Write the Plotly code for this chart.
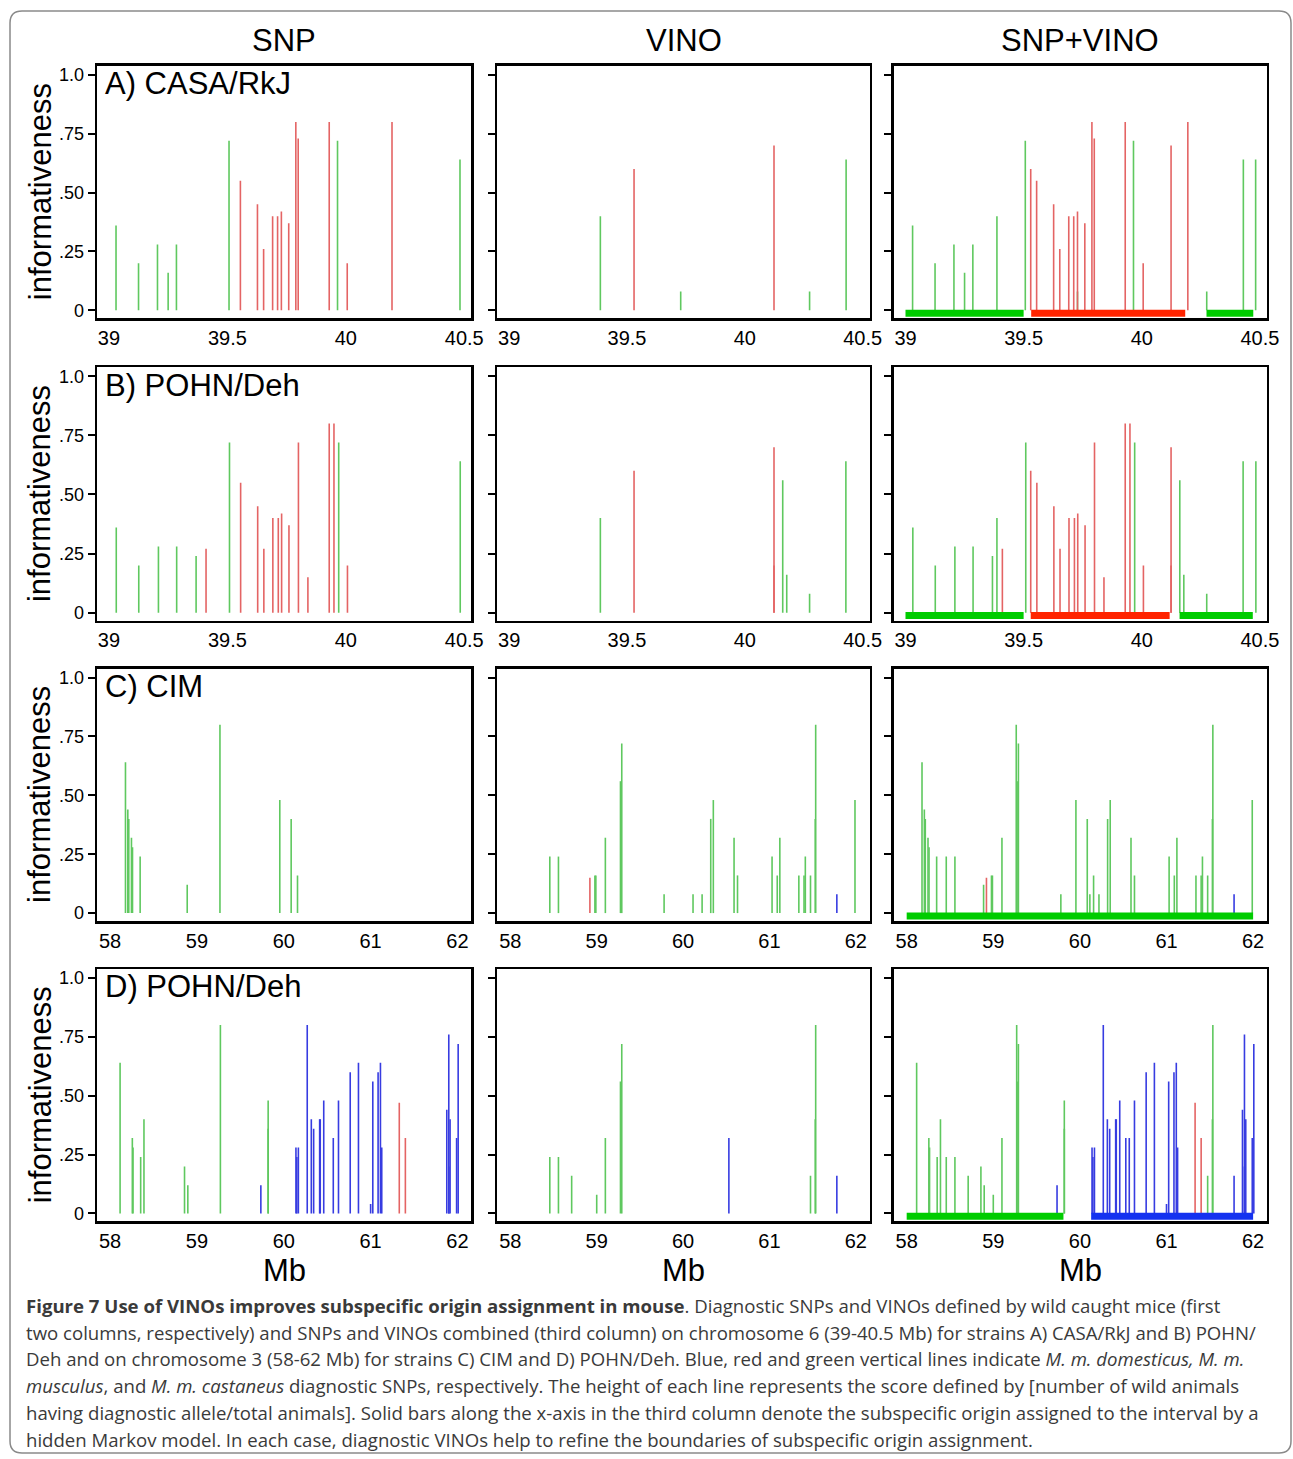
import plotly.graph_objects as go

# ---------------- data ----------------
COL_TITLES = ["SNP", "VINO", "SNP+VINO"]
ROW_LABELS = ["A) CASA/RkJ", "B) POHN/Deh", "C) CIM", "D) POHN/Deh"]
YTICK_VALS = [0, 0.25, 0.5, 0.75, 1.0]
YTICK_TEXT = ["0", ".25", ".50", ".75", "1.0"]
XTICKS_CHR6 = [39, 39.5, 40, 40.5]
XTICKS_CHR3 = [58, 59, 60, 61, 62]

# Row A: CASA/RkJ (chr 6)
A_SNP_green_x = [39.03, 39.125, 39.205, 39.25, 39.285, 39.507, 39.965, 40.482]
A_SNP_green_h = [0.36, 0.20, 0.28, 0.16, 0.28, 0.72, 0.72, 0.64]
A_SNP_red_x = [39.555, 39.627, 39.653, 39.691, 39.712, 39.728, 39.759, 39.789, 39.799, 39.93, 40.006, 40.195]
A_SNP_red_h = [0.55, 0.45, 0.26, 0.40, 0.40, 0.42, 0.37, 0.80, 0.73, 0.80, 0.20, 0.80]
A_VINO_green_x = [39.387, 39.728, 40.275, 40.43]
A_VINO_green_h = [0.40, 0.08, 0.08, 0.64]
A_VINO_red_x = [39.53, 40.124]
A_VINO_red_h = [0.60, 0.70]
A_BAR_start = [39.0, 39.532, 40.274]
A_BAR_end = [39.5, 40.184, 40.472]
A_BAR_type = ["green", "red", "green"]

# Row B: POHN/Deh (chr 6)
B_SNP_green_x = [39.031, 39.126, 39.209, 39.286, 39.368, 39.509, 39.97, 40.483]
B_SNP_green_h = [0.36, 0.20, 0.28, 0.28, 0.24, 0.72, 0.72, 0.64]
B_SNP_red_x = [39.41, 39.556, 39.628, 39.654, 39.692, 39.715, 39.729, 39.76, 39.80, 39.84, 39.93, 39.95, 40.007]
B_SNP_red_h = [0.27, 0.55, 0.45, 0.27, 0.40, 0.40, 0.42, 0.37, 0.72, 0.15, 0.80, 0.80, 0.20]
B_VINO_green_x = [39.387, 40.161, 40.178, 40.275, 40.429]
B_VINO_green_h = [0.40, 0.56, 0.16, 0.08, 0.64]
B_VINO_red_x = [39.53, 40.124, 40.124]
B_VINO_red_h = [0.60, 0.70, 0.20]
B_BAR_start = [39.0, 39.53, 40.16]
B_BAR_end = [39.5, 40.118, 40.47]
B_BAR_type = ["green", "red", "green"]

# Row C: CIM (chr 3)
C_SNP_green_x = [58.177, 58.204, 58.215, 58.246, 58.258, 58.346, 58.888, 59.265, 59.954, 60.085, 60.158]
C_SNP_green_h = [0.64, 0.44, 0.40, 0.32, 0.28, 0.24, 0.12, 0.80, 0.48, 0.40, 0.16]
C_VINO_green_x = [58.457, 58.557, 58.979, 58.99, 59.10, 59.275, 59.29, 59.78, 60.115, 60.22, 60.32,
                  60.35, 60.59, 60.63, 61.03, 61.09, 61.12, 61.34, 61.40, 61.415, 61.475, 61.53,
                  61.535, 61.99]
C_VINO_green_h = [0.24, 0.24, 0.16, 0.16, 0.32, 0.56, 0.72, 0.08, 0.08, 0.08, 0.40,
                  0.48, 0.32, 0.16, 0.24, 0.16, 0.32, 0.16, 0.16, 0.24, 0.16, 0.40,
                  0.80, 0.48]
C_VINO_red_x = [58.921]
C_VINO_red_h = [0.15]
C_VINO_blue_x = [61.78]
C_VINO_blue_h = [0.08]
C_BAR_start = [58.0]
C_BAR_end = [62.0]
C_BAR_type = ["green"]

# Row D: POHN/Deh (chr 3)
D_SNP_green_x = [58.115, 58.256, 58.264, 58.352, 58.39, 58.857, 58.895, 59.27, 59.82, 59.82]
D_SNP_green_h = [0.64, 0.32, 0.28, 0.24, 0.40, 0.20, 0.12, 0.80, 0.48, 0.36]
D_SNP_blue_x = [59.736, 60.14, 60.15, 60.168, 60.27, 60.317, 60.344, 60.413, 60.42, 60.46, 60.57,
                60.63, 60.765, 60.86, 61.0, 61.025, 61.086, 61.113, 61.128, 61.877, 61.90,
                61.90, 61.915, 61.99, 62.008]
D_SNP_blue_h = [0.12, 0.28, 0.24, 0.28, 0.80, 0.40, 0.36, 0.40, 0.40, 0.48, 0.32,
                0.48, 0.60, 0.64, 0.04, 0.56, 0.60, 0.64, 0.28, 0.44, 0.76,
                0.20, 0.40, 0.32, 0.72]
D_SNP_red_x = [61.33, 61.40]
D_SNP_red_h = [0.47, 0.32]
D_VINO_green_x = [58.457, 58.557, 58.71, 59.0, 59.10, 59.275, 59.29, 61.475, 61.53, 61.535]
D_VINO_green_h = [0.24, 0.24, 0.16, 0.08, 0.32, 0.56, 0.72, 0.16, 0.40, 0.80]
D_VINO_blue_x = [60.53, 61.78]
D_VINO_blue_h = [0.32, 0.16]
D_BAR_start = [58.0, 60.13]
D_BAR_end = [59.81, 62.0]
D_BAR_type = ["green", "blue"]

CAPTION_LINES = [
    "<b>Figure 7 Use of VINOs improves subspecific origin assignment in mouse</b>. Diagnostic SNPs and VINOs defined by wild caught mice (first",
    "two columns, respectively) and SNPs and VINOs combined (third column) on chromosome 6 (39-40.5 Mb) for strains A) CASA/RkJ and B) POHN/",
    "Deh and on chromosome 3 (58-62 Mb) for strains C) CIM and D) POHN/Deh. Blue, red and green vertical lines indicate <i>M. m. domesticus, M. m.</i>",
    "<i>musculus</i>, and <i>M. m. castaneus</i> diagnostic SNPs, respectively. The height of each line represents the score defined by [number of wild animals",
    "having diagnostic allele/total animals]. Solid bars along the x-axis in the third column denote the subspecific origin assigned to the interval by a",
    "hidden Markov model. In each case, diagnostic VINOs help to refine the boundaries of subspecific origin assignment.",
]

# ---------------- style ----------------
W, H = 1293, 1459          # design canvas (reference pixels)
FIG_W = 1306               # rendered figure width
COL_PX = [(97, 471), (497, 869), (893, 1266)]
ROW_PX = [(65, 318), (367, 621), (669, 922), (970, 1223)]
LINE_COL = {"green": "rgb(95,200,95)", "red": "rgb(228,100,100)", "blue": "rgb(55,60,225)"}
BAR_COL = {"green": "rgb(0,204,0)", "red": "rgb(255,36,0)", "blue": "rgb(20,50,240)"}
FONT = "Liberation Sans, Arial, sans-serif"
BIG = 31
BAR_Y = -0.012

ROWS = [
    dict(snp={"green": (A_SNP_green_x, A_SNP_green_h), "red": (A_SNP_red_x, A_SNP_red_h)},
         vino={"green": (A_VINO_green_x, A_VINO_green_h), "red": (A_VINO_red_x, A_VINO_red_h)},
         bars=(A_BAR_start, A_BAR_end, A_BAR_type), ticks=XTICKS_CHR6, rng=[38.95, 40.53]),
    dict(snp={"green": (B_SNP_green_x, B_SNP_green_h), "red": (B_SNP_red_x, B_SNP_red_h)},
         vino={"green": (B_VINO_green_x, B_VINO_green_h), "red": (B_VINO_red_x, B_VINO_red_h)},
         bars=(B_BAR_start, B_BAR_end, B_BAR_type), ticks=XTICKS_CHR6, rng=[38.95, 40.53]),
    dict(snp={"green": (C_SNP_green_x, C_SNP_green_h)},
         vino={"green": (C_VINO_green_x, C_VINO_green_h), "red": (C_VINO_red_x, C_VINO_red_h),
               "blue": (C_VINO_blue_x, C_VINO_blue_h)},
         bars=(C_BAR_start, C_BAR_end, C_BAR_type), ticks=XTICKS_CHR3, rng=[57.85, 62.16]),
    dict(snp={"green": (D_SNP_green_x, D_SNP_green_h), "blue": (D_SNP_blue_x, D_SNP_blue_h),
              "red": (D_SNP_red_x, D_SNP_red_h)},
         vino={"green": (D_VINO_green_x, D_VINO_green_h), "blue": (D_VINO_blue_x, D_VINO_blue_h)},
         bars=(D_BAR_start, D_BAR_end, D_BAR_type), ticks=XTICKS_CHR3, rng=[57.85, 62.16]),
]


def stems(xs, hs):
    X, Y = [], []
    for x, h in zip(xs, hs):
        X += [x, x, None]
        Y += [0, h, None]
    return X, Y


def px_x(p):
    return p / W


def px_y(p):
    return 1 - p / H


fig = go.Figure()
layout = dict(width=FIG_W, height=H, autosize=False, margin=dict(l=0, r=0, t=0, b=0),
              paper_bgcolor="white", plot_bgcolor="white", showlegend=False,
              font=dict(family=FONT, color="black"))
annotations = []

for r, row in enumerate(ROWS):
    combined = {}
    for src in (row["snp"], row["vino"]):
        for col, (xs, hs) in src.items():
            cx, ch = combined.get(col, ([], []))
            combined[col] = (cx + list(xs), ch + list(hs))
    panels = [row["snp"], row["vino"], combined]
    for c in range(3):
        k = r * 3 + c + 1
        xa, ya = ("x" if k == 1 else f"x{k}"), ("y" if k == 1 else f"y{k}")
        for col in ["green", "red", "blue"]:
            if col in panels[c]:
                X, Y = stems(*panels[c][col])
                fig.add_trace(go.Scatter(x=X, y=Y, mode="lines", xaxis=xa, yaxis=ya,
                                         line=dict(color=LINE_COL[col], width=1.6),
                                         hoverinfo="skip"))
        if c == 2:
            for s, e, t in zip(*row["bars"]):
                fig.add_trace(go.Scatter(x=[s, e], y=[BAR_Y, BAR_Y], mode="lines",
                                         xaxis=xa, yaxis=ya,
                                         line=dict(color=BAR_COL[t], width=7),
                                         hoverinfo="skip"))
        x0, x1 = COL_PX[c]
        y0, y1 = ROW_PX[r]
        layout["xaxis" if k == 1 else f"xaxis{k}"] = dict(
            domain=[px_x(x0), px_x(x1)], anchor=ya, range=row["rng"],
            tickvals=row["ticks"], ticktext=[f"{t:g}" for t in row["ticks"]],
            ticks="", showgrid=False, zeroline=False, showline=True, mirror=True,
            linecolor="black", linewidth=2.5, tickfont=dict(size=20, family=FONT),
            ticklabelstandoff=0)
        layout["yaxis" if k == 1 else f"yaxis{k}"] = dict(
            domain=[px_y(y1), px_y(y0)], anchor=xa, range=[-0.034, 1.038],
            tickvals=YTICK_VALS, ticktext=YTICK_TEXT, ticks="outside", ticklen=7,
            tickwidth=2, tickcolor="black", showticklabels=(c == 0),
            showgrid=False, zeroline=False, showline=True, mirror=True,
            linecolor="black", linewidth=2.5, tickfont=dict(size=18, family=FONT))
    annotations.append(dict(x=px_x(103), y=px_y(ROW_PX[r][0] + 18), xref="paper", yref="paper",
                            text=ROW_LABELS[r], showarrow=False, xanchor="left", yanchor="middle",
                            font=dict(size=BIG, family=FONT)))
    annotations.append(dict(x=px_x(40), y=px_y((ROW_PX[r][0] + ROW_PX[r][1]) / 2), xref="paper",
                            yref="paper", text="informativeness", showarrow=False, textangle=-90,
                            xanchor="center", yanchor="middle", font=dict(size=BIG, family=FONT)))

for c in range(3):
    cx = (COL_PX[c][0] + COL_PX[c][1]) / 2
    annotations.append(dict(x=px_x(cx), y=px_y(40), xref="paper", yref="paper",
                            text=COL_TITLES[c], showarrow=False, xanchor="center",
                            yanchor="middle", font=dict(size=BIG, family=FONT)))
    annotations.append(dict(x=px_x(cx), y=px_y(1272), xref="paper", yref="paper",
                            text="Mb", showarrow=False, xanchor="center",
                            yanchor="middle", font=dict(size=BIG, family=FONT)))

CAP_Y = [1307, 1334, 1360, 1387, 1414, 1441]
for line, yy in zip(CAPTION_LINES, CAP_Y):
    annotations.append(dict(x=px_x(24), y=px_y(yy), xref="paper", yref="paper", text=line,
                            showarrow=False, xanchor="left", yanchor="middle",
                            font=dict(size=18.6, family="Open Sans, sans-serif", color="#3a3a3a")))

layout["annotations"] = annotations
rx, ry = 12 / W, 12 / H
L, R, T, B = px_x(10), px_x(1290), px_y(10), px_y(1455)
path = (f"M {L+rx},{T} L {R-rx},{T} Q {R},{T} {R},{T-ry} L {R},{B+ry} Q {R},{B} {R-rx},{B} "
        f"L {L+rx},{B} Q {L},{B} {L},{B+ry} L {L},{T-ry} Q {L},{T} {L+rx},{T} Z")
layout["shapes"] = [dict(type="path", xref="paper", yref="paper", path=path,
                         line=dict(color="#8a8a8a", width=1.5))]
fig.update_layout(**layout)

POST = ("var s=document.createElement('style');"
        "s.textContent='html,body{margin:0;padding:0;overflow:hidden;}';"
        "document.head.appendChild(s);")
fig.write_html("out.html",
               config={"responsive": False, "displayModeBar": False, "staticPlot": True},
               post_script=POST)
